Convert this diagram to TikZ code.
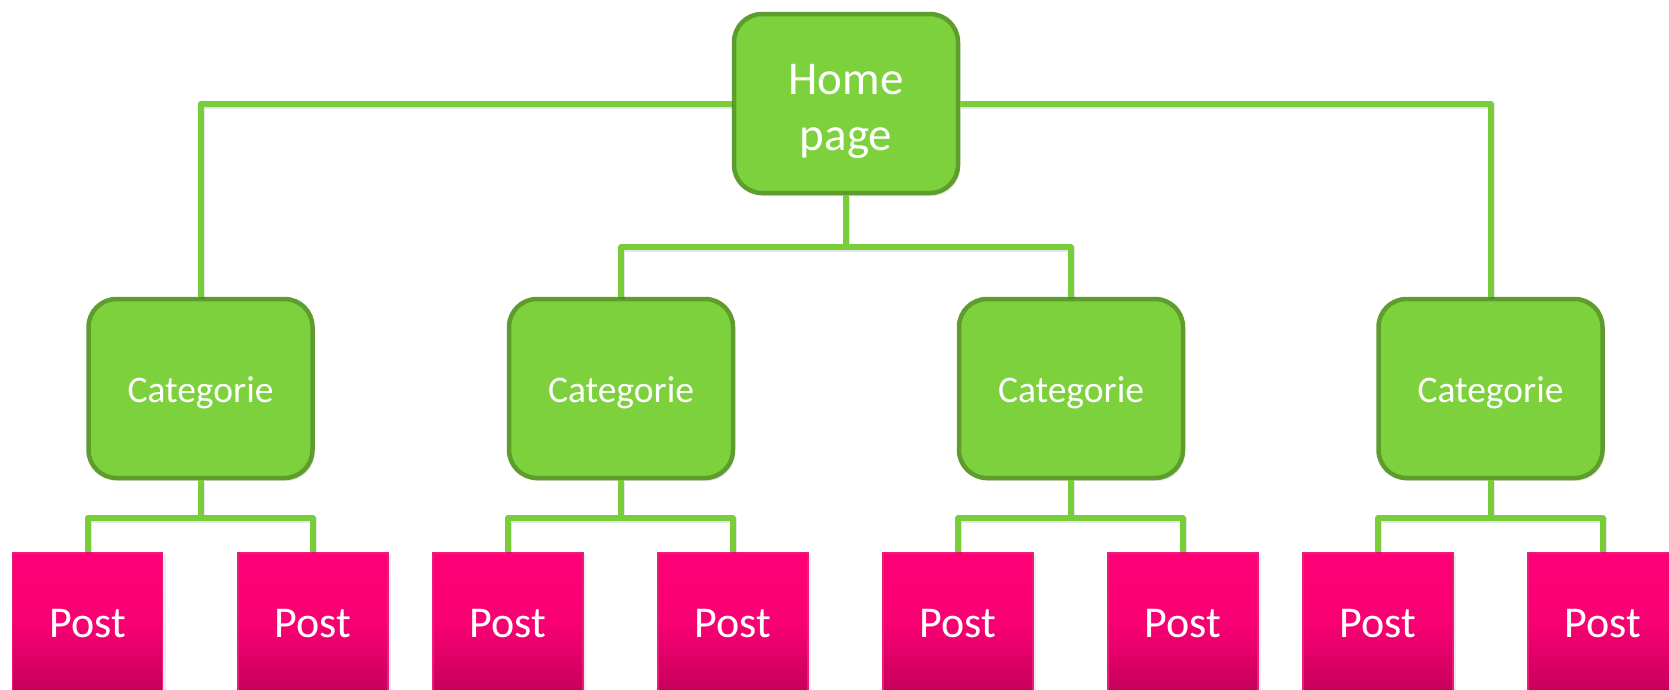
\documentclass[tikz,border=0pt]{standalone}
\usepackage{fontspec}
\setmainfont{Carlito}
\usetikzlibrary{shadows,calc}
\definecolor{leaf}{HTML}{7DD13D}
\definecolor{leafdark}{HTML}{5E9C2E}
\definecolor{wirecol}{HTML}{79CC3A}
\definecolor{rose}{HTML}{FF0076}
\definecolor{rosedeep}{HTML}{C6005A}
\definecolor{roseedge}{HTML}{EC1C7C}
\begin{document}
\begin{tikzpicture}[x=1pt,y=-1pt,
  homebox/.style={draw=leafdark, line width=4.5pt, fill=leaf, rounded corners=28pt,
    minimum width=224pt, minimum height=179pt, inner sep=0pt, text=white,
    font=\fontsize{47}{56}\selectfont,
    drop shadow={opacity=0.2, shadow xshift=2pt, shadow yshift=-3pt}},
  catbox/.style={homebox, font=\fontsize{37.5}{42}\selectfont},
  postbox/.style={draw=roseedge, line width=1.2pt, top color=rose, bottom color=rosedeep,
    middle color=rose!88!rosedeep, minimum width=150pt, minimum height=140pt,
    inner sep=0pt, text=white, font=\fontsize{44}{50}\selectfont,
    drop shadow={opacity=0.16, shadow xshift=3pt, shadow yshift=-2pt}},
  wire/.style={draw=wirecol, line width=6pt, line join=round,
    preaction={draw=black, opacity=0.1, line width=6pt,
      transform canvas={shift={(1pt,-2pt)}}}}]
\useasboundingbox (0,0) rectangle (1669,689);
\clip (0,0) rectangle (1669,689);

% top level: first baseline 9.5pt above the centre, second 56pt lower
\node[homebox] (home) at (846,103.5)
  {\raisebox{0pt}[0pt][19pt]{\parbox[t]{200pt}{\centering Home\\page}}};

% categories
\foreach \n/\x in {1/200.5,2/621,3/1071,4/1490.5}
  \node[catbox] (c\n) at (\x,388.5) {\raisebox{0pt}[28pt][0pt]{Categorie}};

% posts
\foreach \n/\x in {1/87.5,2/313,3/508,4/733,5/958,6/1183,7/1378,8/1603}
  \node[postbox] (p\n) at (\x,623) {\raisebox{0pt}[28pt][0pt]{Post}};

% junctions
\coordinate (hj) at ($(home.south)+(0,52)$);
\foreach \c in {1,2,3,4}
  \coordinate (j\c) at ($(c\c.south)+(0,38)$);

% connectors from the home page
\draw[wire] (home.west) -| (c1.north);
\draw[wire] (home.east) -| (c4.north);
\draw[wire] (home.south) -- (hj);
\draw[wire] (c2.north) |- (hj) -| (c3.north);

% connectors from the categories
\draw[wire] (c1.south) -- (j1);
\draw[wire] (p1.north) |- (j1) -| (p2.north);
\draw[wire] (c2.south) -- (j2);
\draw[wire] (p3.north) |- (j2) -| (p4.north);
\draw[wire] (c3.south) -- (j3);
\draw[wire] (p5.north) |- (j3) -| (p6.north);
\draw[wire] (c4.south) -- (j4);
\draw[wire] (p7.north) |- (j4) -| (p8.north);
\end{tikzpicture}
\end{document}
